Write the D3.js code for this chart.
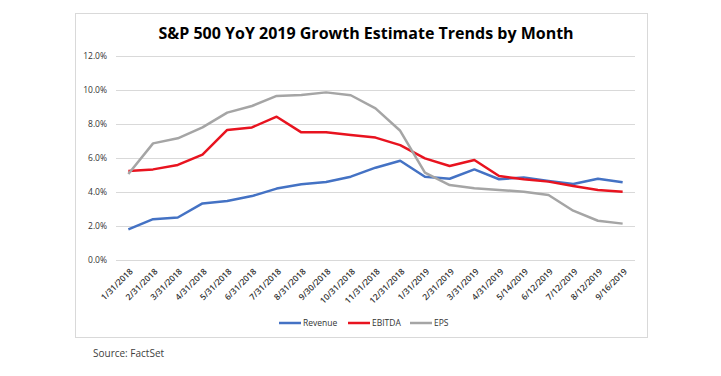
<!DOCTYPE html>
<html>
<head>
<meta charset="utf-8">
<script src="https://cdn.jsdelivr.net/npm/d3@7"></script>
<style>
  body { margin: 0; background: #fff; }
  svg { display: block; font-family: "Open Sans", Calibri, sans-serif; }
</style>
</head>
<body>
<svg id="chart" width="721" height="376"></svg>
<script>
// Data
const dates = ["1/31/2018", "2/31/2018", "3/31/2018", "4/31/2018", "5/31/2018", "6/31/2018",
  "7/31/2018", "8/31/2018", "9/30/2018", "10/31/2018", "11/31/2018", "12/31/2018",
  "1/31/2019", "2/31/2019", "3/31/2019", "4/31/2019", "5/14/2019", "6/12/2019",
  "7/12/2019", "8/12/2019", "9/16/2019"];
const revenue = [1.8, 2.4, 2.5, 3.33, 3.47, 3.76, 4.2, 4.45, 4.59, 4.9, 5.43, 5.84,
  4.9, 4.78, 5.33, 4.75, 4.86, 4.65, 4.47, 4.78, 4.57];
const ebitda = [5.24, 5.33, 5.59, 6.2, 7.65, 7.8, 8.43, 7.51, 7.51, 7.35, 7.2, 6.76,
  5.98, 5.53, 5.88, 4.94, 4.75, 4.61, 4.35, 4.12, 4.02];
const eps = [5.06, 6.86, 7.16, 7.8, 8.67, 9.06, 9.65, 9.7, 9.86, 9.69, 8.92, 7.6,
  5.14, 4.41, 4.22, 4.12, 4.02, 3.82, 2.9, 2.31, 2.14];
const yTicks = [0, 2, 4, 6, 8, 10, 12];

const series = [
  {name: "Revenue", values: revenue, color: "#4472c4"},
  {name: "EBITDA", values: ebitda, color: "#e8131f"},
  {name: "EPS", values: eps, color: "#a5a5a5"}
];

let svg = d3.select("#chart");

// chart frame
svg.append("rect")
  .attr("x", 75.5).attr("y", 13.5)
  .attr("width", 572).attr("height", 324)
  .attr("fill", "#fff").attr("stroke", "#d9d9d9");

// Title
svg.append("text")
  .attr("x", 366).attr("y", 39)
  .attr("text-anchor", "middle")
  .attr("font-size", 16).attr("font-weight", "bold")
  .attr("fill", "#000")
  .text("S&P 500 YoY 2019 Growth Estimate Trends by Month");

// Scales
let x = d3.scalePoint().domain(dates).range([116, 635]).padding(0.5);
let y = d3.scaleLinear().domain([0, 12]).range([260, 56]);

// Gridlines
svg.append("g").selectAll("line")
  .data(yTicks).enter()
  .append("line")
  .attr("x1", 116).attr("x2", 635)
  .attr("y1", (d) => { return Math.round(y(d)) + 0.5; })
  .attr("y2", (d) => { return Math.round(y(d)) + 0.5; })
  .attr("stroke", "#d9d9d9").attr("stroke-width", 1);

// Y labels
svg.append("g").selectAll("text")
  .data(yTicks).enter()
  .append("text")
  .attr("x", 107)
  .attr("y", (d) => { return y(d) + 3; })
  .attr("text-anchor", "end")
  .attr("font-size", 8.5)
  .attr("fill", "#333")
  .text((d) => { return d.toFixed(1) + "%"; });

// X labels, rotated
svg.append("g").selectAll("text")
  .data(dates).enter()
  .append("text")
  .attr("transform", (d) => { return `translate(${x(d) + 5},${272}) rotate(-45)`; })
  .attr("text-anchor", "end")
  .attr("font-size", 8.5)
  .attr("font-weight", 600)
  .attr("fill", "#333")
  .text((d) => { return d; });

// Lines
let line = d3.line()
  .x((d, i) => { return x(dates[i]); })
  .y((d) => { return y(d); });

svg.append("g").selectAll("path")
  .data(series).enter()
  .append("path")
  .attr("d", (s) => { return line(s.values); })
  .attr("fill", "none")
  .attr("stroke", (s) => { return s.color; })
  .attr("stroke-width", 2.5)
  .attr("stroke-linejoin", "round");

// Legend
const legendX = [279, 348, 410];
let legend = svg.append("g").selectAll("g")
  .data(series).enter()
  .append("g")
  .attr("transform", (s, i) => { return `translate(${legendX[i]},323)`; });

legend.append("line")
  .attr("x1", 0).attr("x2", 22)
  .attr("stroke", (s) => { return s.color; })
  .attr("stroke-width", 2.5);

legend.append("text")
  .attr("x", 24).attr("y", 3)
  .attr("font-size", 8.5)
  .attr("fill", "#333")
  .text((s) => { return s.name; });

// Source
svg.append("text")
  .attr("x", 93).attr("y", 357)
  .attr("font-size", 10)
  .attr("fill", "#404040")
  .text("Source: FactSet");
</script>
</body>
</html>
